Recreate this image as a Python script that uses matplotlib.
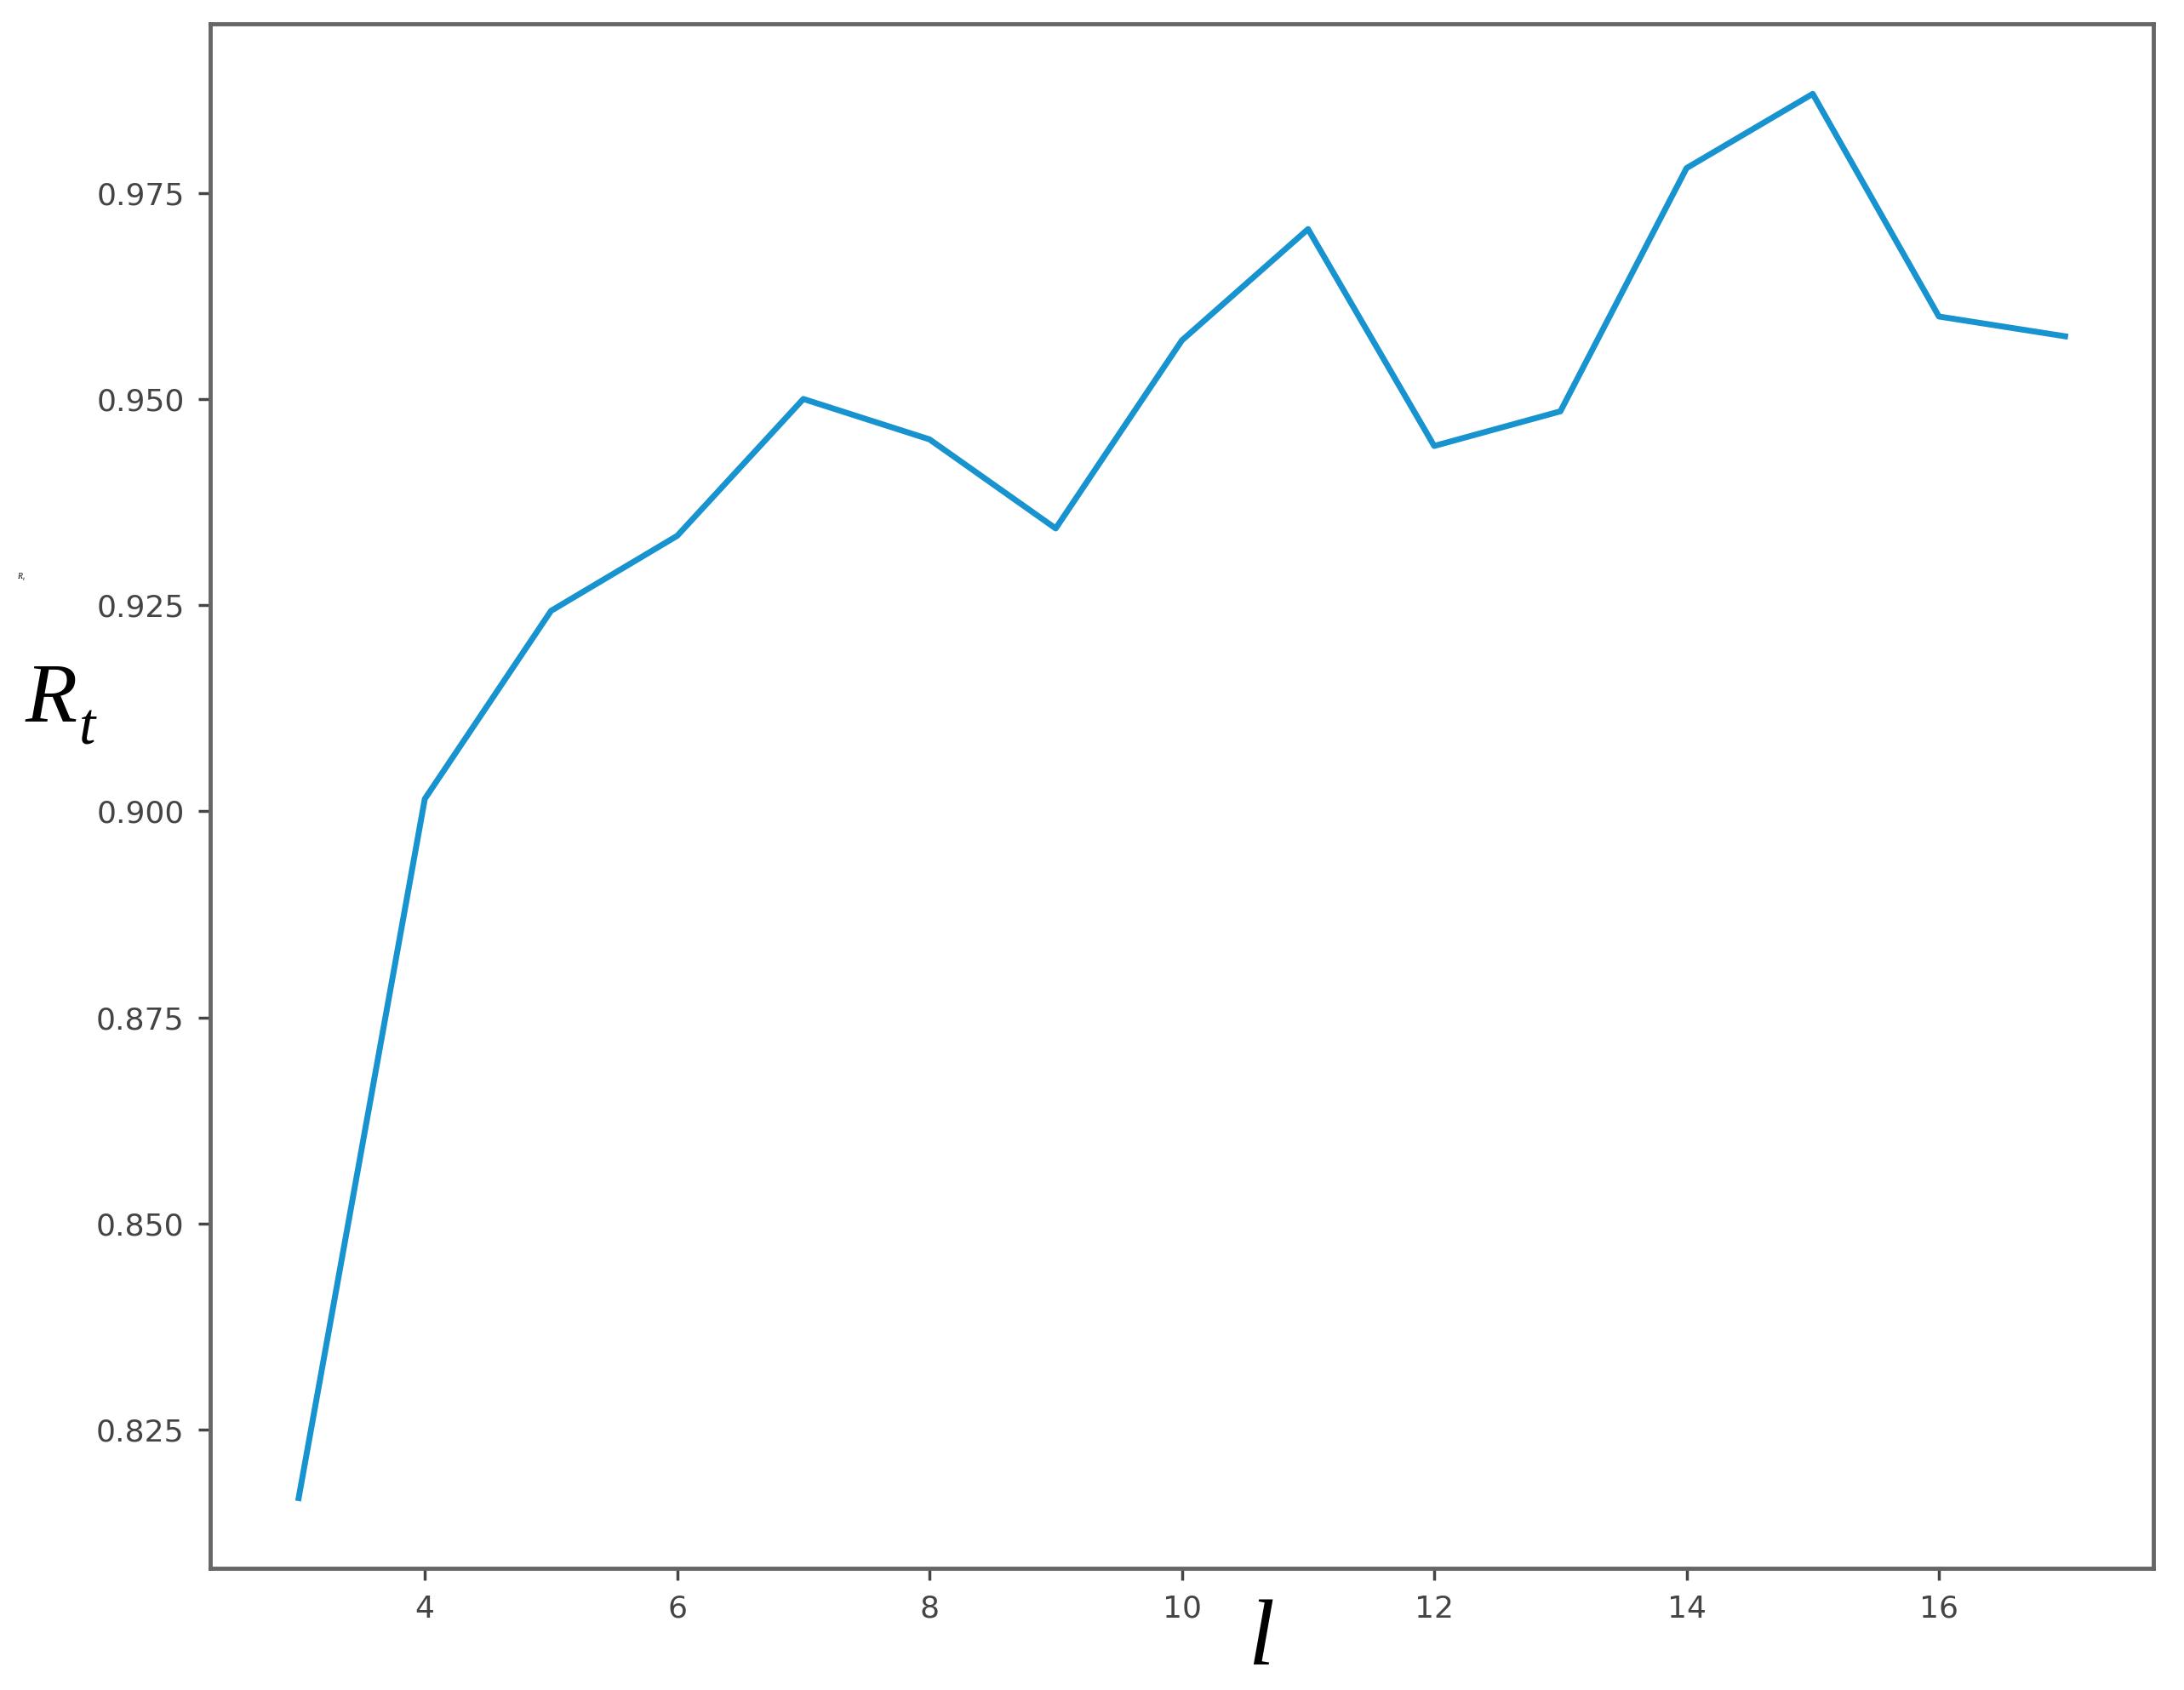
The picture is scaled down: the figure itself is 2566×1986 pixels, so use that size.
import numpy as np
import matplotlib.pyplot as plt

# window length l vs. R_t
l_values = [3, 4, 5, 6, 7, 8, 9, 10, 11, 12, 13, 14, 15, 16, 17]
rt_values = [0.8167, 0.9015, 0.9243, 0.9334, 0.9500, 0.9451, 0.9343, 0.9571,
             0.9706, 0.9443, 0.9485, 0.9780, 0.9870, 0.9600, 0.9576]
x_ticks = [4, 6, 8, 10, 12, 14, 16]
y_ticks = [0.825, 0.850, 0.875, 0.900, 0.925, 0.950, 0.975]

fig = plt.figure(figsize=(25.66, 19.86), dpi=100)
ax = fig.add_axes([0.0963, 0.072, 0.8897, 0.914])

ax.plot(l_values, rt_values, color='#1793cf', linewidth=5)

ax.set_xticks(x_ticks)
ax.set_yticks(y_ticks)
ax.set_yticklabels(["%.3f" % v for v in y_ticks])
ax.tick_params(labelsize=26, colors='#444444', length=10, width=2.5, pad=12)
for sp in ax.spines.values():
    sp.set_color('#666666')
    sp.set_linewidth(3.5)

# axis labels placed as free text (R and subscript t drawn apart)
serif = dict(family='Liberation Serif', style='italic', color='black')
fig.text(30 / 2566, 1 - 847 / 1986, 'R', fontsize=72, ha='left', va='baseline', **serif)
fig.text(93 / 2566, 1 - 874 / 1986, 't', fontsize=50, ha='left', va='baseline', **serif)
fig.text(20 / 2566, 1 - 680 / 1986, 'R', fontsize=7, ha='left', va='baseline', **serif)
fig.text(27 / 2566, 1 - 682 / 1986, 't', fontsize=5, ha='left', va='baseline', **serif)
fig.text(1482 / 2566, 1 - 1956 / 1986, 'l', fontsize=80, ha='center', va='baseline', **serif)

fig.savefig('out.png', dpi=100)
